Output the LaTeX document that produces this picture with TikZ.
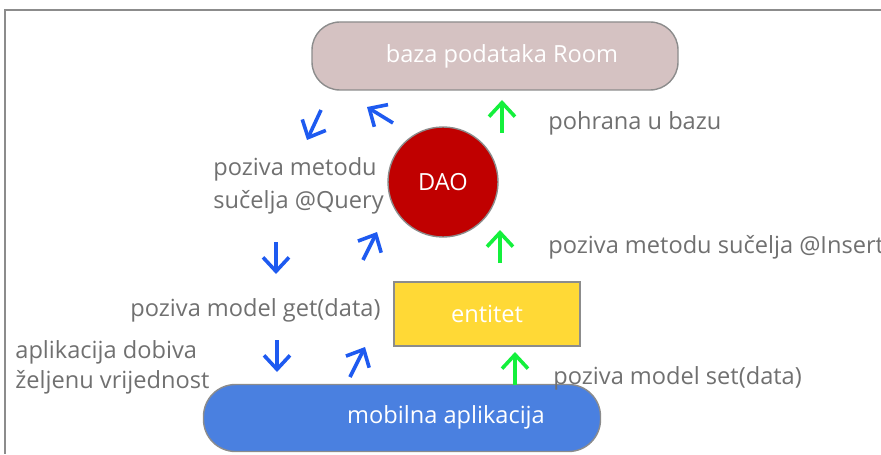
\documentclass[tikz,border=0pt]{standalone}
\usepackage{fontspec}
\setmainfont{Open Sans}
\usetikzlibrary{arrows.meta}
\usetikzlibrary{positioning}

\definecolor{roomfill}{RGB}{213,194,194}
\definecolor{daofill}{RGB}{192,0,0}
\definecolor{entfill}{RGB}{255,217,54}
\definecolor{appfill}{RGB}{74,128,224}
\definecolor{edgegray}{RGB}{140,140,140}
\definecolor{notegray}{RGB}{112,112,112}
\definecolor{arrowblue}{RGB}{30,90,240}
\definecolor{arrowgreen}{RGB}{20,240,60}

\begin{document}
\begin{tikzpicture}[x=0.5pt,y=-0.5pt,
    box/.style={draw=edgegray, line width=0.7pt, text=white, font=\fontsize{11.8}{14}\selectfont},
    note/.style={text=notegray, anchor=west, align=left, inner sep=0pt, font=\fontsize{11.8}{16.5}\selectfont},
    bluearrow/.style={-{Straight Barb[length=7pt,width=13pt]}, line width=1.8pt, draw=arrowblue},
    greenarrow/.style={-{Straight Barb[length=7pt,width=13pt]}, line width=1.8pt, draw=arrowgreen}]
            \useasboundingbox (0,0) rectangle (881,454);
            \draw[edgegray, line width=0.7pt] (881,10) -- (5,10) -- (5,454);

            \node[box, rectangle, rounded corners=14pt, fill=roomfill, minimum width=183pt, minimum height=34pt] (room) at (495,56) {};
            \node[text=white, font=\fontsize{11.8}{14}\selectfont] (roomtext) at (502,56) {baza podataka Room};
            \node[box, circle, fill=daofill, minimum size=55pt, inner sep=0pt] (dao) at (443,182) {DAO};
            \node[box, rectangle, fill=entfill, minimum width=93pt, minimum height=32pt] (entitet) at (487,314) {entitet};
            \node[box, rectangle, rounded corners=16pt, fill=appfill, minimum width=198.5pt, minimum height=33.5pt] (app) at (402,418) {};
            \node[text=white, font=\fontsize{11.8}{14}\selectfont] (apptext) at (446,417) {mobilna aplikacija};

            \node[note] (pohrana) at (548,123) {pohrana u bazu};
            \node[note] (query) at (213,186) {poziva metodu\\sučelja @Query};
            \node[note] (insert) at (548,247) {poziva metodu sučelja @Insert};
            \node[note] (get) at (130,310) {poziva model get(data)};
            \node[note, font=\fontsize{11.8}{15}\selectfont] (dobiva) at (15,367) {aplikacija dobiva\\željenu vrijednost};
            \node[note] (set) at (553,378) {poziva model set(data)};

            % blue arrows (query path)
            \coordinate (b1s) at (321,110); \coordinate (b1e) at (307,140);
            \coordinate (b2s) at (393,123); \coordinate (b2e) at (367,107);
            \coordinate (b3s) at (276,242); \coordinate (b3e) at (276,274);
            \coordinate (b4s) at (363,260); \coordinate (b4e) at (377,232);
            \coordinate (b5s) at (277,340); \coordinate (b5e) at (277,372);
            \coordinate (b6s) at (350,377); \coordinate (b6e) at (365,347);
            \draw[bluearrow] (b1s) -- (b1e);
            \draw[bluearrow] (b2s) -- (b2e);
            \draw[bluearrow] (b3s) -- (b3e);
            \draw[bluearrow] (b4s) -- (b4e);
            \draw[bluearrow] (b5s) -- (b5e);
            \draw[bluearrow] (b6s) -- (b6e);

            % green arrows (insert path)
            \coordinate (g1s) at (502,133); \coordinate (g1e) at (502,100);
            \coordinate (g2s) at (500,263); \coordinate (g2e) at (500,230);
            \coordinate (g3s) at (515,385); \coordinate (g3e) at (515,352);
            \draw[greenarrow] (g1s) -- (g1e);
            \draw[greenarrow] (g2s) -- (g2e);
            \draw[greenarrow] (g3s) -- (g3e);
        \end{tikzpicture}
\end{document}
